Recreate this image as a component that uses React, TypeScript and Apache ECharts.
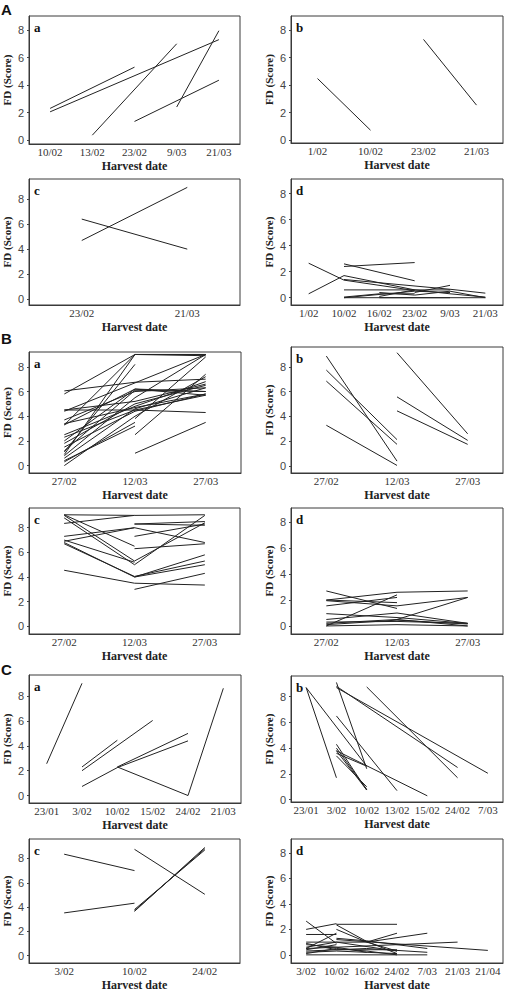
import React, { useEffect, useRef } from "react";
import * as echarts from "echarts";

// ---------- categories (harvest dates) ----------
const A_a_cats = ["10/02", "13/02", "23/02", "9/03", "21/03"];
const A_b_cats = ["1/02", "10/02", "23/02", "21/03"];
const A_c_cats = ["23/02", "21/03"];
const A_d_cats = ["1/02", "10/02", "16/02", "23/02", "9/03", "21/03"];
const B_cats = ["27/02", "12/03", "27/03"];
const C_a_cats = ["23/01", "3/02", "10/02", "15/02", "24/02", "21/03"];
const C_b_cats = ["23/01", "3/02", "10/02", "13/02", "15/02", "24/02", "7/03"];
const C_c_cats = ["3/02", "10/02", "24/02"];
const C_d_cats = ["3/02", "10/02", "16/02", "24/02", "7/03", "21/03", "21/04"];

const yTicks = [0, 2, 4, 6, 8];

// ---------- FD score lines ----------
type Pt = [string, number];
const A_a_lines: Pt[][] = [
  [["10/02", 2.3], ["23/02", 5.3]],
  [["10/02", 2.05], ["21/03", 7.3]],
  [["13/02", 0.35], ["9/03", 7.0]],
  [["23/02", 1.35], ["21/03", 4.35]],
  [["9/03", 2.4], ["21/03", 7.95]],
];
const A_b_lines: Pt[][] = [
  [["1/02", 4.48], ["10/02", 0.73]],
  [["23/02", 7.32], ["21/03", 2.55]],
];
const A_c_lines: Pt[][] = [
  [["23/02", 4.69], ["21/03", 8.93]],
  [["23/02", 6.4], ["21/03", 4.0]],
];
const A_d_lines: Pt[][] = [
  [["1/02", 2.65], ["10/02", 1.35], ["23/02", 0.55]],
  [["1/02", 0.3], ["10/02", 1.7], ["23/02", 0.6]],
  [["10/02", 2.4], ["23/02", 2.7]],
  [["10/02", 2.6], ["23/02", 1.3]],
  [["10/02", 1.4], ["9/03", 0.65], ["21/03", 0.35]],
  [["10/02", 0.6], ["9/03", 0.6]],
  [["23/02", 0.4], ["9/03", 0.95]],
  [["10/02", 0.0], ["23/02", 0.5], ["9/03", 0.4]],
  [["10/02", 0.0], ["9/03", 0.0]],
  [["10/02", 0.05], ["16/02", 0.3], ["23/02", 0.3]],
  [["16/02", 0.1], ["23/02", 0.6], ["9/03", 0.3]],
  [["23/02", 0.2], ["9/03", 0.5], ["21/03", 0.0]],
  [["9/03", 0.3], ["21/03", 0.05]],
  [["16/02", 0.0], ["21/03", 0.0]],
  [["16/02", 0.4], ["23/02", 0.2]],
];
const B_a_lines: Pt[][] = [
  [["27/02", 5.8], ["12/03", 9.0], ["27/03", 9.0]],
  [["27/02", 6.05], ["12/03", 6.75], ["27/03", 7.0]],
  [["27/02", 4.4], ["12/03", 6.7], ["27/03", 9.0]],
  [["27/02", 4.5], ["12/03", 4.5], ["27/03", 4.3]],
  [["27/02", 0.9], ["12/03", 9.0], ["27/03", 9.0]],
  [["27/02", 1.1], ["12/03", 8.2]],
  [["27/02", 0.3], ["12/03", 3.5]],
  [["12/03", 1.0], ["27/03", 3.5]],
  [["12/03", 2.5], ["27/03", 7.4]],
  [["12/03", 3.8], ["27/03", 8.8]],
  [["27/02", 3.3], ["12/03", 6.2], ["27/03", 6.0]],
  [["27/02", 3.7], ["12/03", 6.0], ["27/03", 6.3]],
  [["27/02", 2.5], ["12/03", 4.8], ["27/03", 6.8]],
  [["27/02", 2.3], ["12/03", 4.5], ["27/03", 5.7]],
  [["27/02", 1.8], ["12/03", 5.0], ["27/03", 6.5]],
  [["27/02", 1.5], ["12/03", 4.4], ["27/03", 5.8]],
  [["27/02", 0.6], ["12/03", 4.6], ["27/03", 6.3]],
  [["27/02", 0.0], ["12/03", 4.0], ["27/03", 7.2]],
  [["27/02", 0.8], ["12/03", 5.5], ["27/03", 9.0]],
  [["27/02", 3.4], ["12/03", 4.7], ["27/03", 5.8]],
  [["27/02", 1.2], ["12/03", 6.1], ["27/03", 6.0]],
  [["27/02", 3.3], ["12/03", 9.0], ["27/03", 8.9]],
  [["27/02", 0.4], ["12/03", 3.2]],
  [["27/02", 4.5], ["12/03", 5.2], ["27/03", 6.6]],
  [["27/02", 2.0], ["12/03", 6.2], ["27/03", 5.7]],
];
const B_b_lines: Pt[][] = [
  [["27/02", 8.87], ["12/03", 0.4]],
  [["27/02", 7.74], ["12/03", 2.13]],
  [["27/02", 6.85], ["12/03", 1.75]],
  [["27/02", 3.29], ["12/03", 0.05]],
  [["12/03", 9.14], ["27/03", 2.6]],
  [["12/03", 5.58], ["27/03", 2.07]],
  [["12/03", 4.45], ["27/03", 1.75]],
];
const B_c_lines: Pt[][] = [
  [["27/02", 9.05], ["12/03", 9.0], ["27/03", 9.05]],
  [["27/02", 8.35], ["12/03", 9.0]],
  [["27/02", 9.05], ["12/03", 6.5]],
  [["27/02", 9.0], ["12/03", 5.3], ["27/03", 8.4]],
  [["27/02", 8.8], ["12/03", 5.0], ["27/03", 9.0]],
  [["27/02", 7.3], ["12/03", 8.0], ["27/03", 6.8]],
  [["27/02", 7.0], ["12/03", 5.2]],
  [["27/02", 6.8], ["12/03", 4.0], ["27/03", 5.8]],
  [["27/02", 6.7], ["12/03", 4.05], ["27/03", 5.3]],
  [["12/03", 4.0], ["27/03", 5.0]],
  [["27/02", 4.55], ["12/03", 3.5], ["27/03", 3.35]],
  [["12/03", 3.0], ["27/03", 4.3]],
  [["12/03", 8.3], ["27/03", 8.5]],
  [["12/03", 7.3], ["27/03", 8.3]],
  [["12/03", 6.3], ["27/03", 6.7]],
  [["12/03", 8.3], ["27/03", 8.2]],
  [["27/02", 6.9], ["12/03", 8.0]],
];
const B_d_lines: Pt[][] = [
  [["27/02", 2.7], ["12/03", 1.35]],
  [["27/02", 2.0], ["12/03", 2.6], ["27/03", 2.7]],
  [["27/02", 1.55], ["12/03", 2.2]],
  [["27/02", 1.95], ["12/03", 1.55], ["27/03", 2.2]],
  [["27/02", 0.0], ["12/03", 2.4]],
  [["27/02", 0.95], ["12/03", 0.65], ["27/03", 0.2]],
  [["12/03", 0.5], ["27/03", 2.2]],
  [["27/02", 0.5], ["12/03", 1.0], ["27/03", 0.2]],
  [["27/02", 0.2], ["12/03", 0.5], ["27/03", 0.0]],
  [["27/02", 0.1], ["12/03", 0.45], ["27/03", 0.15]],
  [["27/02", 0.0], ["12/03", 0.1], ["27/03", 0.0]],
  [["27/02", 0.3], ["12/03", 0.35], ["27/03", 0.2]],
  [["27/02", 2.0], ["12/03", 1.8]],
];
const C_a_lines: Pt[][] = [
  [["23/01", 2.56], ["3/02", 9.03]],
  [["3/02", 2.3], ["10/02", 4.45]],
  [["3/02", 2.0], ["15/02", 6.04]],
  [["3/02", 0.73], ["10/02", 2.25], ["24/02", 4.4]],
  [["10/02", 2.3], ["24/02", 5.0]],
  [["10/02", 2.3], ["24/02", 0.0], ["21/03", 8.63]],
];
const C_b_lines: Pt[][] = [
  [["23/01", 8.7], ["3/02", 1.7]],
  [["23/01", 8.7], ["10/02", 2.6]],
  [["3/02", 9.1], ["10/02", 2.4]],
  [["3/02", 8.8], ["24/02", 2.5]],
  [["3/02", 8.7], ["7/03", 2.05]],
  [["10/02", 8.75], ["24/02", 1.7]],
  [["3/02", 6.5], ["13/02", 0.7]],
  [["3/02", 4.3], ["10/02", 0.75]],
  [["3/02", 4.0], ["10/02", 0.8]],
  [["3/02", 3.8], ["10/02", 0.75]],
  [["3/02", 3.4], ["10/02", 1.0]],
  [["3/02", 3.8], ["15/02", 0.3]],
  [["3/02", 3.6], ["10/02", 2.6]],
];
const C_c_lines: Pt[][] = [
  [["3/02", 8.35], ["10/02", 7.0]],
  [["3/02", 3.52], ["10/02", 4.32]],
  [["10/02", 8.75], ["24/02", 5.05]],
  [["10/02", 3.65], ["24/02", 8.9]],
  [["10/02", 3.8], ["24/02", 8.7]],
  [["10/02", 3.7], ["24/02", 8.8]],
];
const C_d_lines: Pt[][] = [
  [["3/02", 2.65], ["10/02", 0.9]],
  [["3/02", 2.0], ["10/02", 2.45]],
  [["10/02", 2.4], ["24/02", 2.4]],
  [["10/02", 2.35], ["16/02", 1.05], ["24/02", 0.1]],
  [["10/02", 2.0], ["16/02", 1.0], ["24/02", 0.3]],
  [["3/02", 1.6], ["10/02", 1.6]],
  [["3/02", 0.5], ["10/02", 1.7]],
  [["16/02", 1.0], ["24/02", 1.7]],
  [["10/02", 1.3], ["16/02", 1.1], ["7/03", 0.5]],
  [["16/02", 1.0], ["7/03", 1.7]],
  [["10/02", 1.2], ["21/04", 0.35]],
  [["3/02", 0.5], ["21/03", 1.0]],
  [["3/02", 1.0], ["16/02", 1.0]],
  [["3/02", 0.8], ["10/02", 0.6], ["16/02", 0.2]],
  [["3/02", 0.6], ["10/02", 1.0], ["24/02", 0.3]],
  [["3/02", 0.0], ["7/03", 0.0]],
  [["3/02", 0.2], ["10/02", 0.3], ["24/02", 0.1]],
  [["3/02", 0.3], ["16/02", 0.5], ["7/03", 0.2]],
  [["3/02", 0.1], ["10/02", 0.5], ["16/02", 0.3], ["24/02", 0.0]],
  [["3/02", 0.9], ["10/02", 0.4], ["24/02", 0.4]],
  [["3/02", 0.4], ["10/02", 0.8]],
];

// ---------- layout (positions only) ----------
const panels = [
  { letter: "a", cats: A_a_cats, lines: A_a_lines, box: [29, 16, 211, 128], y: [-0.29, 9.02] },
  { letter: "b", cats: A_b_cats, lines: A_b_lines, box: [291, 16, 212, 127], y: [-0.2, 9.02] },
  { letter: "c", cats: A_c_cats, lines: A_c_lines, box: [29, 179, 211, 126], y: [-0.46, 9.6] },
  { letter: "d", cats: A_d_cats, lines: A_d_lines, box: [291, 179, 212, 126], y: [-0.56, 9.12] },
  { letter: "a", cats: B_cats, lines: B_a_lines, box: [29, 352, 212, 121], y: [-0.6, 9.2] },
  { letter: "b", cats: B_cats, lines: B_b_lines, box: [291, 347, 212, 126], y: [-0.56, 9.6] },
  { letter: "c", cats: B_cats, lines: B_c_lines, box: [29, 508, 211, 126], y: [-0.62, 9.6] },
  { letter: "d", cats: B_cats, lines: B_d_lines, box: [291, 508, 212, 126], y: [-0.62, 9.1] },
  { letter: "a", cats: C_a_cats, lines: C_a_lines, box: [29, 675, 212, 128], y: [-0.6, 9.7] },
  { letter: "b", cats: C_b_cats, lines: C_b_lines, box: [291, 676, 212, 126], y: [-0.18, 9.6] },
  { letter: "c", cats: C_c_cats, lines: C_c_lines, box: [29, 839, 211, 126], y: [-0.6, 9.6] },
  { letter: "d", cats: C_d_cats, lines: C_d_lines, box: [291, 839, 212, 126], y: [-0.64, 9.1] },
];
const groupLetters = [
  { text: "A", top: 2 },
  { text: "B", top: 331 },
  { text: "C", top: 662 },
];

const SERIF = "'Liberation Serif', 'DejaVu Serif', serif";
const SANS = "'Liberation Sans', Arial, sans-serif";

function buildOption() {
  const grid: any[] = [];
  const xAxis: any[] = [];
  const yAxis: any[] = [];
  const series: any[] = [];
  const graphic: any[] = [];
  panels.forEach((p, i) => {
    const [l, t, w, h] = p.box;
    grid.push({
      left: l,
      top: t,
      width: w,
      height: h,
      show: true,
      borderColor: "#3a3a3a",
      borderWidth: 1,
      backgroundColor: "#fff",
      containLabel: false,
    });
    xAxis.push({
      type: "category",
      gridIndex: i,
      data: p.cats,
      boundaryGap: true,
      name: "Harvest date",
      nameLocation: "middle",
      nameGap: 16,
      nameTextStyle: { fontFamily: SERIF, fontWeight: "bold", fontSize: 12, color: "#222" },
      axisLine: { show: true, onZero: false, lineStyle: { color: "#3a3a3a", width: 1 } },
      axisTick: { show: false },
      axisLabel: { margin: 2, fontFamily: SERIF, fontSize: 11, color: "#333", interval: 0 },
      splitLine: { show: false },
    });
    yAxis.push({
      type: "value",
      gridIndex: i,
      min: p.y[0],
      max: p.y[1],
      name: "FD (Score)",
      nameLocation: "middle",
      nameGap: 17,
      nameRotate: 90,
      nameTextStyle: { fontFamily: SERIF, fontWeight: "bold", fontSize: 11, color: "#222" },
      axisLine: { show: true, onZero: false, lineStyle: { color: "#3a3a3a", width: 1 } },
      axisTick: { show: true, length: 2, customValues: yTicks, lineStyle: { color: "#444" } },
      axisLabel: { customValues: yTicks, margin: 5, fontFamily: SANS, fontSize: 11, color: "#444" },
      splitLine: { show: false },
    });
    p.lines.forEach((ln) => {
      series.push({
        type: "line",
        xAxisIndex: i,
        yAxisIndex: i,
        data: ln,
        symbol: "none",
        silent: true,
        lineStyle: { color: "#222", width: 1 },
        z: 3,
      });
    });
    graphic.push({
      type: "text",
      left: l + 5,
      top: t + 5,
      style: { text: p.letter, font: `bold 13px ${SERIF}`, fill: "#111" },
      z: 10,
    });
  });
  groupLetters.forEach((g) => {
    graphic.push({
      type: "text",
      left: 1,
      top: g.top,
      style: { text: g.text, font: `bold 15px ${SANS}`, fill: "#111" },
      z: 10,
    });
  });
  return { animation: false, backgroundColor: "#fff", grid, xAxis, yAxis, series, graphic };
}

export default function App() {
  const ref = useRef<HTMLDivElement>(null);
  useEffect(() => {
    if (!ref.current) return;
    const chart = echarts.init(ref.current, undefined, { renderer: "svg" });
    chart.setOption(buildOption() as any);
    return () => chart.dispose();
  }, []);
  return (
    <div
      ref={ref}
      style={{ position: "absolute", left: 0, top: 0, width: 506, height: 992, background: "#fff" }}
    />
  );
}
